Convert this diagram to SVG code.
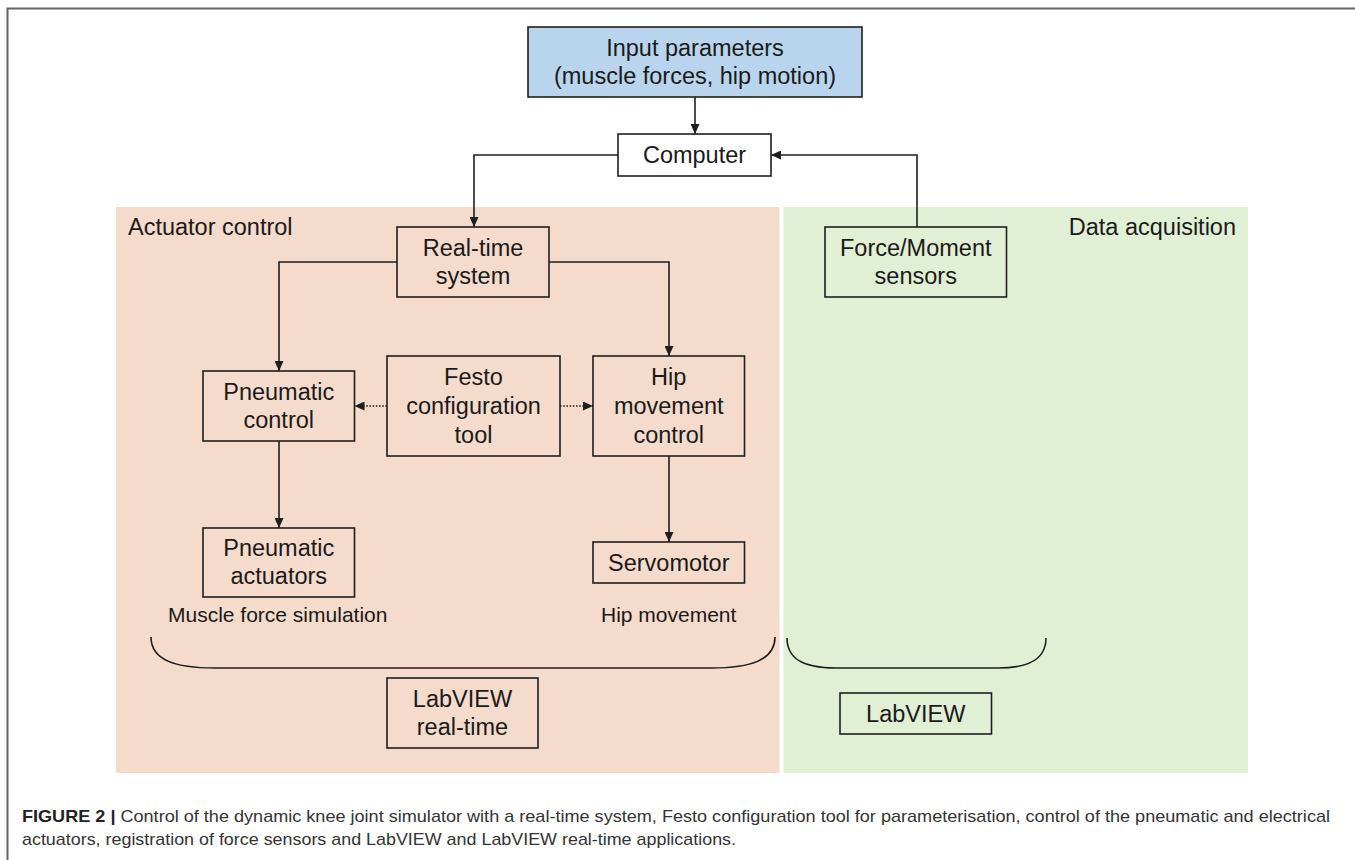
<svg xmlns="http://www.w3.org/2000/svg" width="1355" height="860" viewBox="0 0 1355 860">
<style>
.box{fill:none;stroke:#1e1e1e;stroke-width:1.6}
.t{font-family:"Liberation Sans",Arial,sans-serif;font-size:23.5px;fill:#1a1a1a;text-anchor:middle}
.lbl{font-family:"Liberation Sans",Arial,sans-serif;font-size:23.5px;fill:#1a1a1a}
.ann{font-family:"Liberation Sans",Arial,sans-serif;font-size:21px;fill:#1a1a1a}
.con{fill:none;stroke:#1e1e1e;stroke-width:1.6}
.dot{fill:none;stroke:#1e1e1e;stroke-width:1.6;stroke-dasharray:1.6 1.6}
.cap{font-family:"Liberation Sans",Arial,sans-serif;font-size:17px;fill:#333}
</style>
<defs>
<marker id="ah" markerUnits="userSpaceOnUse" markerWidth="10" markerHeight="9" refX="10" refY="4.5" orient="auto"><path d="M0,0 L10,4.5 L0,9 Z" fill="#1e1e1e"/></marker>
</defs>
<rect width="1355" height="860" fill="#fff"/>
<path d="M7.5,860 L7.5,8.5 L1355,8.5" fill="none" stroke="#666" stroke-width="2"/>
<g id="regions">
<rect x="116" y="207" width="663.5" height="566" fill="#f5dbcb"/>
<rect x="783.5" y="207" width="464.5" height="566" fill="#e1efd4"/>
<text class="lbl" x="128" y="235">Actuator control</text>
<text class="lbl" x="1236" y="235" text-anchor="end">Data acquisition</text>
</g>
<g id="connectors">
<path class="con" d="M695,97 L695,134" marker-end="url(#ah)"/>
<path class="con" d="M618,155 L474,155 L474,227" marker-end="url(#ah)"/>
<path class="con" d="M397,262 L279,262 L279,371" marker-end="url(#ah)"/>
<path class="con" d="M549,262 L669,262 L669,356" marker-end="url(#ah)"/>
<path class="con" d="M917,227 L917,155 L771,155" marker-end="url(#ah)"/>
<path class="con" d="M279,441 L279,528" marker-end="url(#ah)"/>
<path class="con" d="M669,456 L669,542" marker-end="url(#ah)"/>
<path class="dot" d="M387,406 L354.5,406" marker-end="url(#ah)"/>
<path class="dot" d="M560,406 L593,406" marker-end="url(#ah)"/>
</g>
<g id="input">
<rect x="528" y="27" width="334" height="70" fill="#b9d5ed" stroke="#1e1e1e" stroke-width="1.6"/>
<text class="t" x="695" y="56">Input parameters</text>
<text class="t" x="695" y="84">(muscle forces, hip motion)</text>
</g>
<g id="computer">
<rect class="box" x="618" y="134" width="153" height="42" fill="#fff" style="fill:#fff"/>
<text class="t" x="694.5" y="163">Computer</text>
</g>
<g id="realtime">
<rect class="box" x="397" y="227" width="152" height="70"/>
<text class="t" x="473" y="256">Real-time</text>
<text class="t" x="473" y="284">system</text>
</g>
<g id="forcemoment">
<rect class="box" x="825" y="227" width="181.5" height="70"/>
<text class="t" x="915.75" y="256">Force/Moment</text>
<text class="t" x="915.75" y="284">sensors</text>
</g>
<g id="pneumaticcontrol">
<rect class="box" x="203" y="371" width="151.5" height="70"/>
<text class="t" x="278.75" y="400">Pneumatic</text>
<text class="t" x="278.75" y="428">control</text>
</g>
<g id="festo">
<rect class="box" x="387" y="356" width="173" height="100"/>
<text class="t" x="473.5" y="385">Festo</text>
<text class="t" x="473.5" y="414">configuration</text>
<text class="t" x="473.5" y="443">tool</text>
</g>
<g id="hipcontrol">
<rect class="box" x="593" y="356" width="151.5" height="100"/>
<text class="t" x="668.75" y="385">Hip</text>
<text class="t" x="668.75" y="414">movement</text>
<text class="t" x="668.75" y="443">control</text>
</g>
<g id="pneumaticactuators">
<rect class="box" x="203" y="528" width="151.5" height="69"/>
<text class="t" x="278.75" y="556">Pneumatic</text>
<text class="t" x="278.75" y="584">actuators</text>
</g>
<g id="servomotor">
<rect class="box" x="593" y="542" width="151.5" height="41"/>
<text class="t" x="668.75" y="570.5">Servomotor</text>
</g>
<g id="annotations">
<text class="ann" x="168" y="622">Muscle force simulation</text>
<text class="ann" x="601" y="622">Hip movement</text>
<path class="con" d="M151,637 C151,660 175,668 215,668 L711,668 C751,668 775,660 775,637"/>
<path class="con" d="M787,638 C787,660 805,668 835,668 L998,668 C1028,668 1046,660 1046,638"/>
</g>
<g id="labviewrt">
<rect class="box" x="387" y="678" width="151" height="70"/>
<text class="t" x="462.5" y="707">LabVIEW</text>
<text class="t" x="462.5" y="735">real-time</text>
</g>
<g id="labview">
<rect class="box" x="840" y="693" width="151.5" height="41"/>
<text class="t" x="915.75" y="721.5">LabVIEW</text>
</g>
<g id="caption">
<text class="cap" x="22" y="822" textLength="1308" lengthAdjust="spacingAndGlyphs"><tspan font-weight="bold" fill="#222">FIGURE 2 |</tspan> Control of the dynamic knee joint simulator with a real-time system, Festo configuration tool for parameterisation, control of the pneumatic and electrical</text>
<text class="cap" x="22" y="845" textLength="714" lengthAdjust="spacingAndGlyphs">actuators, registration of force sensors and LabVIEW and LabVIEW real-time applications.</text>
</g>
</svg>
